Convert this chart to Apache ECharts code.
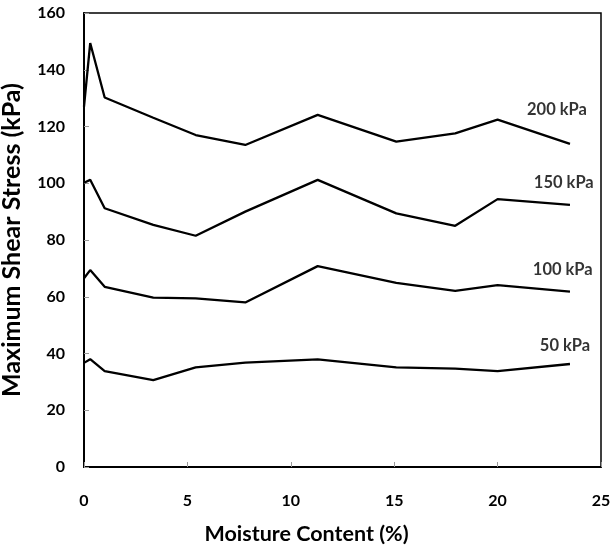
<!DOCTYPE html>
<html>
<head>
<meta charset="utf-8">
<script src="https://cdn.jsdelivr.net/npm/echarts@6/dist/echarts.min.js"></script>
<style>html,body{margin:0;padding:0;background:#fff}#c{width:612px;height:545px}</style>
</head>
<body>
<div id="c"></div>
<script>
const moisture = [0, 0.3, 1, 3.35, 5.4, 7.8, 11.3, 15.1, 17.95, 20, 23.5];
const s200 = [127, 149.4, 130.2, 123.1, 117, 113.5, 124.1, 114.7, 117.6, 122.4, 113.9];
const s150 = [100.2, 101.2, 91.2, 85.3, 81.5, 90, 101.2, 89.4, 85, 94.4, 92.4];
const s100 = [66.5, 69.4, 63.5, 59.7, 59.4, 58, 70.8, 64.9, 62.1, 64.1, 61.8];
const s50 = [36.7, 38, 33.8, 30.6, 35.1, 36.8, 37.9, 35.1, 34.7, 33.8, 36.3];
const seriesNames = ['200 kPa', '150 kPa', '100 kPa', '50 kPa'];
const labelX = [22.87, 23.2, 23.15, 23.26];
const labelY = [125.9, 100.2, 69.7, 42.6];
const xTicks = [0, 5, 10, 15, 20, 25];
const yTicks = [0, 20, 40, 60, 80, 100, 120, 140, 160];

const font = 'Lato';
const allSeries = [s200, s150, s100, s50];
const chart = echarts.init(document.getElementById('c'));
const series = allSeries.map((arr, i) => ({
  name: seriesNames[i],
  type: 'line',
  data: moisture.map((x, j) => [x, arr[j]]),
  showSymbol: false,
  lineStyle: { color: '#000', width: 2.3 },
  silent: true
}));
series.push({
  type: 'scatter',
  symbolSize: 0,
  silent: true,
  data: seriesNames.map((n, i) => ({ value: [labelX[i], labelY[i]], name: n })),
  label: {
    show: true,
    position: 'inside',
    formatter: p => p.name,
    color: '#000',
    fontFamily: font,
    fontWeight: 'bold',
    fontSize: 16.5
  }
});
chart.setOption({
  animation: false,
  grid: { left: 84, right: 11, top: 13, bottom: 78, containLabel: false, outerBoundsMode: 'none',
          show: true, borderColor: '#000', borderWidth: 1.5 },
  xAxis: {
    type: 'value', min: xTicks[0], max: xTicks[xTicks.length - 1], interval: 5,
    name: 'Moisture Content (%)', nameLocation: 'middle', nameGap: 56,
    nameTextStyle: { fontFamily: font, fontWeight: 'bold', fontSize: 21.5, color: '#000', padding: [0, 72, 0, 0] },
    axisLine: { lineStyle: { color: '#000', width: 2 } },
    axisTick: { inside: true, length: 5, lineStyle: { color: '#999', width: 1 } },
    axisLabel: { fontFamily: font, fontWeight: 'bold', fontSize: 16, color: '#000', margin: 26 },
    splitLine: { show: false }
  },
  yAxis: {
    type: 'value', min: yTicks[0], max: yTicks[yTicks.length - 1], interval: 20,
    name: 'Maximum Shear Stress (kPa)', nameLocation: 'middle', nameGap: 60,
    nameTextStyle: { fontFamily: font, fontWeight: 'bold', fontSize: 25, color: '#000' },
    axisLine: { show: true, lineStyle: { color: '#000', width: 2 } },
    axisTick: { show: true, inside: true, length: 5, lineStyle: { color: '#999', width: 1 } },
    axisLabel: { fontFamily: font, fontWeight: 'bold', fontSize: 16, color: '#000', margin: 19 },
    splitLine: { show: false }
  },
  series: series
});
</script>
</body>
</html>
